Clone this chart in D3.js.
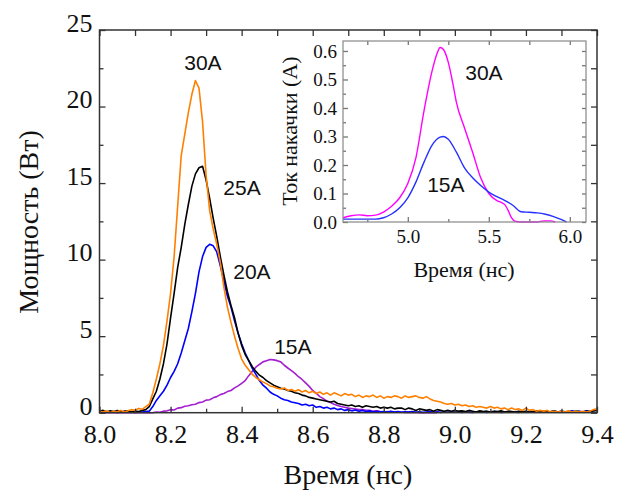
<!doctype html>
<html lang="ru">
<head>
<meta charset="utf-8">
<title>Мощность импульса</title>
<script src="https://cdn.jsdelivr.net/npm/d3@7"></script>
<style>
  body { margin: 0; background: #fff; }
  svg { display: block; }
  .curve { fill: none; stroke-linejoin: round; }
  .serif, .serif text { font-family: 'Liberation Serif', 'Times New Roman', 'DejaVu Serif', serif !important; }
  .sans { font-family: 'Liberation Sans', Arial, sans-serif; }
</style>
</head>
<body>
<svg id="chart" width="618" height="496"></svg>
<script>
// main plot: time grid 8.00 .. 9.40 ns, step 0.01
var t0 = 8.0, dt = 0.01;

var p30 = [
  0.10,0.05,0.12,0.02,0.10,0.06,0.15,0.05,0.12,0.20,
  0.15,0.28,0.22,0.40,0.55,1.30,2.20,3.20,4.40,6.00,
  7.80,10.2,13.5,16.8,18.2,19.6,20.8,21.7,21.2,19.0,
  15.5,13.2,12.0,11.0,9.80,8.20,6.90,5.90,5.00,4.20,
  3.50,3.10,2.80,2.50,2.30,2.15,2.00,1.90,1.75,1.70,
  1.60,1.55,1.62,1.45,1.52,1.40,1.50,1.35,1.45,1.30,
  1.40,1.25,1.35,1.20,1.30,1.15,1.30,1.20,1.10,1.25,
  1.15,1.20,1.05,1.15,1.00,1.10,1.05,1.15,1.00,1.10,
  0.95,1.05,1.00,1.10,1.05,0.95,1.10,1.00,1.05,1.10,
  1.00,0.95,1.05,0.90,0.80,0.75,0.70,0.60,0.55,0.60,
  0.50,0.55,0.45,0.50,0.40,0.45,0.35,0.40,0.35,0.30,
  0.40,0.30,0.35,0.25,0.30,0.20,0.30,0.20,0.25,0.15,
  0.30,0.15,0.20,0.10,0.15,0.10,0.15,0.05,0.10,0.05,
  0.10,0.05,0.12,0.05,0.10,0.05,0.10,0.05,0.10,0.20,
  0.25
];
var p25 = [
  0.10,0.15,0.05,0.12,0.08,0.15,0.05,0.10,0.12,0.05,
  0.10,0.08,0.15,0.20,0.40,0.90,1.40,2.20,3.20,4.50,
  6.20,7.80,9.50,10.8,12.3,13.6,14.8,15.6,16.0,16.1,
  15.2,14.0,12.7,11.5,10.2,9.00,7.90,7.00,6.20,5.20,
  4.40,3.80,3.40,3.00,2.70,2.45,2.30,2.10,1.95,1.80,
  1.70,1.60,1.55,1.45,1.40,1.30,1.25,1.15,1.10,1.00,
  0.95,0.90,0.85,0.80,0.75,0.70,0.75,0.60,0.55,0.50,
  0.45,0.50,0.40,0.45,0.35,0.45,0.40,0.35,0.40,0.30,
  0.35,0.30,0.35,0.25,0.30,0.30,0.20,0.30,0.25,0.15,
  0.25,0.20,0.15,0.20,0.10,0.20,0.15,0.10,0.15,0.10,
  0.15,0.10,0.12,0.08,0.15,0.10,0.05,0.12,0.08,0.10,
  0.05,0.10,0.08,0.12,0.05,0.10,0.08,0.05,0.10,0.06,
  0.10,0.05,0.08,0.12,0.05,0.10,0.06,0.08,0.12,0.05,
  0.10,0.06,0.08,0.05,0.10,0.08,0.05,0.10,0.08,0.12,
  0.15
];
var p20 = [
  0.05,0.02,0.08,0.03,0.06,0.02,0.05,0.08,0.03,0.05,
  0.02,0.06,0.04,0.08,0.10,0.40,0.80,1.10,1.40,1.80,
  2.30,2.70,3.20,3.90,4.70,5.50,6.60,7.80,9.20,10.2,
  10.8,11.0,10.9,10.5,9.60,8.60,7.60,6.90,6.00,5.20,
  4.50,3.90,3.40,2.90,2.50,2.10,1.80,1.60,1.35,1.20,
  1.10,0.95,0.85,0.80,0.70,0.65,0.60,0.50,0.55,0.45,
  0.50,0.35,0.40,0.30,0.35,0.25,0.30,0.20,0.25,0.15,
  0.20,0.12,0.18,0.10,0.15,0.08,0.12,0.05,0.10,0.06,
  0.08,0.04,0.10,0.05,0.08,0.03,0.06,0.04,0.08,0.03,
  0.06,0.02,0.05,0.08,0.03,0.06,0.02,0.05,0.03,0.06,
  0.03,0.05,0.02,0.06,0.04,0.02,0.05,0.03,0.06,0.02,
  0.05,0.03,0.06,0.02,0.04,0.06,0.03,0.05,0.02,0.06,
  0.04,0.08,0.03,0.05,0.10,0.04,0.06,0.03,0.08,0.05,
  0.10,0.05,0.08,0.12,0.06,0.10,0.05,0.12,0.08,0.15,
  0.20
];
var p15 = [
  0.00,0.00,0.00,0.00,0.00,0.00,0.00,0.00,0.00,0.00,
  0.00,0.00,0.00,0.00,0.00,0.00,0.05,0.03,0.10,0.12,
  0.20,0.18,0.30,0.33,0.42,0.45,0.52,0.55,0.66,0.70,
  0.82,0.85,0.97,1.05,1.18,1.25,1.38,1.45,1.62,1.75,
  1.92,2.10,2.42,2.70,2.97,3.15,3.32,3.40,3.48,3.45,
  3.40,3.32,3.10,2.92,2.75,2.57,2.35,2.17,1.95,1.72,
  1.45,1.27,1.05,0.92,0.75,0.66,0.55,0.47,0.40,0.36,
  0.30,0.27,0.24,0.20,0.20,0.15,0.16,0.10,0.12,0.08,
  0.05,0.07,0.04,0.06,0.03,0.05,0.02,0.04,0.02,0.03,
  0.00,0.00,0.00,0.00,0.00,0.00
];

// inset: pump current
var i30t = [4.60,4.65,4.70,4.75,4.80,4.85,4.90,4.95,5.00,5.05,5.10,5.15,5.18,5.20,5.22,5.25,5.28,5.30,5.35,5.40,5.45,5.50,5.55,5.58,5.60,5.62,5.64,5.66,5.70,5.80,5.84,5.88,5.91];
var i30v = [0.015,0.022,0.025,0.022,0.024,0.035,0.055,0.085,0.135,0.225,0.39,0.53,0.59,0.612,0.605,0.56,0.48,0.42,0.33,0.245,0.155,0.10,0.075,0.068,0.06,0.04,0.015,0.003,0.0,0.0,0.004,0.004,0.0];
var i15t = [4.60,4.70,4.80,4.85,4.90,4.95,5.00,5.05,5.10,5.15,5.20,5.22,5.25,5.30,5.35,5.40,5.45,5.50,5.55,5.60,5.65,5.70,5.75,5.80,5.85,5.90,5.95,5.98];
var i15v = [0.01,0.01,0.01,0.015,0.028,0.05,0.085,0.14,0.21,0.27,0.298,0.30,0.29,0.245,0.19,0.155,0.128,0.105,0.089,0.075,0.058,0.036,0.034,0.032,0.027,0.019,0.008,0.0];

var mainNames = ["15A", "20A", "25A", "30A"];
var mainColors = ["#a41fd0", "#0000ff", "#000000", "#ff8000"];
var mainLabelT = [8.544, 8.429, 8.401, 8.291];
var mainLabelP = [3.83, 8.73, 14.2, 22.4];

var insetNames = ["30A", "15A"];
var insetColors = ["#ff00ff", "#2630ff"];
var insetLabelT = [5.47, 5.235];
var insetLabelV = [0.498, 0.105];

var svg = d3.select("#chart");

// ---- main plot
var x = d3.scaleLinear().domain([8.0, 9.4]).range([99.5, 597]);
var y = d3.scaleLinear().domain([0, 25]).range([412.7, 30]);

function series(vals) {
  return vals.map(function(v, i) { return [t0 + i * dt, v]; });
}
var mainSeries = [p15, p20, p25, p30].map(series);

var line = d3.line()
  .x(function(d) { return x(d[0]); })
  .y(function(d) { return y(d[1]); });

svg.append("g").selectAll("path")
  .data(mainSeries)
  .enter().append("path")
    .attr("class", "curve")
    .attr("d", line)
    .attr("stroke", function(d, i) { return mainColors[i]; })
    .attr("stroke-width", 1.6);

svg.append("rect")
  .attr("x", x(8.0)).attr("y", y(25))
  .attr("width", x(9.4) - x(8.0)).attr("height", y(0) - y(25))
  .attr("fill", "none").attr("stroke", "#333").attr("stroke-width", 1.5);

var xMajor = d3.range(0, 8).map(function(i) { return 8.0 + i * 0.2; });
var xMinor = d3.range(0, 7).map(function(i) { return 8.1 + i * 0.2; });
var yMajor = [0, 5, 10, 15, 20, 25];
var yMinor = [2.5, 7.5, 12.5, 17.5, 22.5];

function styleAxis(g, color, size) {
  g.attr("font-family", null).attr("class", "serif").attr("font-size", size || 10);
  g.select(".domain").remove();
  g.selectAll(".tick line").attr("stroke", color).attr("stroke-width", 1.3);
  g.selectAll(".tick text").attr("fill", "#111");
}

svg.append("g").attr("transform", "translate(0," + y(0) + ")")
  .call(d3.axisBottom(x).tickValues(xMajor).tickSize(-6).tickPadding(12).tickFormat(d3.format(".1f")))
  .call(styleAxis, "#333", 26);
svg.append("g").attr("transform", "translate(0," + y(0) + ")")
  .call(d3.axisBottom(x).tickValues(xMinor).tickSize(-4).tickFormat(""))
  .call(styleAxis, "#333");
svg.append("g").attr("transform", "translate(0," + y(25) + ")")
  .call(d3.axisTop(x).tickValues(xMajor.concat(xMinor)).tickSize(-6).tickFormat(""))
  .call(styleAxis, "#333");

svg.append("g").attr("transform", "translate(" + x(8.0) + ",0)")
  .call(d3.axisLeft(y).tickValues(yMajor).tickSize(-6).tickPadding(7).tickFormat(d3.format("d")))
  .call(styleAxis, "#333", 26)
  .selectAll(".tick text").attr("dy", "0.05em");
svg.append("g").attr("transform", "translate(" + x(8.0) + ",0)")
  .call(d3.axisLeft(y).tickValues(yMinor).tickSize(-4).tickFormat(""))
  .call(styleAxis, "#333");
svg.append("g").attr("transform", "translate(" + x(9.4) + ",0)")
  .call(d3.axisRight(y).tickValues(yMajor.concat(yMinor)).tickSize(-6).tickFormat(""))
  .call(styleAxis, "#333");

svg.append("text").attr("class", "serif").attr("fill", "#111")
  .attr("x", 348).attr("y", 484)
  .attr("text-anchor", "middle").attr("font-size", 28)
  .text("Время (нс)");
svg.append("text").attr("class", "serif").attr("fill", "#111")
  .attr("transform", "translate(38,222) rotate(-90)")
  .attr("text-anchor", "middle").attr("font-size", 28)
  .text("Мощность (Вт)");

svg.append("g").selectAll("text")
  .data(mainNames)
  .enter().append("text")
    .attr("class", "sans").attr("fill", "#111")
    .attr("x", function(d, i) { return x(mainLabelT[i]); })
    .attr("y", function(d, i) { return y(mainLabelP[i]); })
    .attr("text-anchor", "middle")
    .attr("font-size", 21)
    .text(function(d) { return d; });

// ---- inset
var xi = d3.scaleLinear().domain([4.6, 6.1]).range([343, 586]);
var yi = d3.scaleLinear().domain([0, 0.635]).range([222, 41]);

svg.append("rect")
  .attr("x", xi(4.6)).attr("y", yi(0.635))
  .attr("width", xi(6.1) - xi(4.6)).attr("height", yi(0) - yi(0.635))
  .attr("fill", "#fff");

var insetSeries = [
  i30t.map(function(t, i) { return [t, i30v[i]]; }),
  i15t.map(function(t, i) { return [t, i15v[i]]; })
];
var lineI = d3.line()
  .x(function(d) { return xi(d[0]); })
  .y(function(d) { return yi(d[1]); })
  .curve(d3.curveMonotoneX);

svg.append("g").selectAll("path")
  .data(insetSeries)
  .enter().append("path")
    .attr("class", "curve")
    .attr("d", lineI)
    .attr("stroke", function(d, i) { return insetColors[i]; })
    .attr("stroke-width", 1.4);

var xiMajor = [5.0, 5.5, 6.0];
var xiMinor = [4.75, 5.25, 5.75];
var yiMajor = [0, 0.1, 0.2, 0.3, 0.4, 0.5, 0.6];
var yiMinor = [0.05, 0.15, 0.25, 0.35, 0.45, 0.55];

svg.append("g").attr("transform", "translate(0," + yi(0) + ")")
  .call(d3.axisBottom(xi).tickValues(xiMajor).tickSize(-5).tickPadding(8).tickFormat(d3.format(".1f")))
  .call(styleAxis, "#777", 19);
svg.append("g").attr("transform", "translate(0," + yi(0) + ")")
  .call(d3.axisBottom(xi).tickValues(xiMinor).tickSize(-3).tickFormat(""))
  .call(styleAxis, "#777");
svg.append("g").attr("transform", "translate(0," + yi(0.635) + ")")
  .call(d3.axisTop(xi).tickValues(xiMajor.concat(xiMinor)).tickSize(-4).tickFormat(""))
  .call(styleAxis, "#777");
svg.append("g").attr("transform", "translate(" + xi(4.6) + ",0)")
  .call(d3.axisLeft(yi).tickValues(yiMajor).tickSize(-5).tickPadding(6).tickFormat(d3.format(".1f")))
  .call(styleAxis, "#777", 19);
svg.append("g").attr("transform", "translate(" + xi(4.6) + ",0)")
  .call(d3.axisLeft(yi).tickValues(yiMinor).tickSize(-3).tickFormat(""))
  .call(styleAxis, "#777");
svg.append("g").attr("transform", "translate(" + xi(6.1) + ",0)")
  .call(d3.axisRight(yi).tickValues(yiMajor.concat(yiMinor)).tickSize(-4).tickFormat(""))
  .call(styleAxis, "#777");

svg.append("rect")
  .attr("x", xi(4.6)).attr("y", yi(0.635))
  .attr("width", xi(6.1) - xi(4.6)).attr("height", yi(0) - yi(0.635))
  .attr("fill", "none").attr("stroke", "#888").attr("stroke-width", 1.2);

svg.append("text").attr("class", "serif").attr("fill", "#111")
  .attr("x", 464).attr("y", 277)
  .attr("text-anchor", "middle").attr("font-size", 22)
  .text("Время (нс)");
svg.append("text").attr("class", "serif").attr("fill", "#111")
  .attr("transform", "translate(297,131) rotate(-90)")
  .attr("text-anchor", "middle").attr("font-size", 22)
  .text("Ток накачки (А)");

svg.append("g").selectAll("text")
  .data(insetNames)
  .enter().append("text")
    .attr("class", "sans").attr("fill", "#111")
    .attr("x", function(d, i) { return xi(insetLabelT[i]); })
    .attr("y", function(d, i) { return yi(insetLabelV[i]); })
    .attr("text-anchor", "middle")
    .attr("font-size", 21)
    .text(function(d) { return d; });
</script>
</body>
</html>
